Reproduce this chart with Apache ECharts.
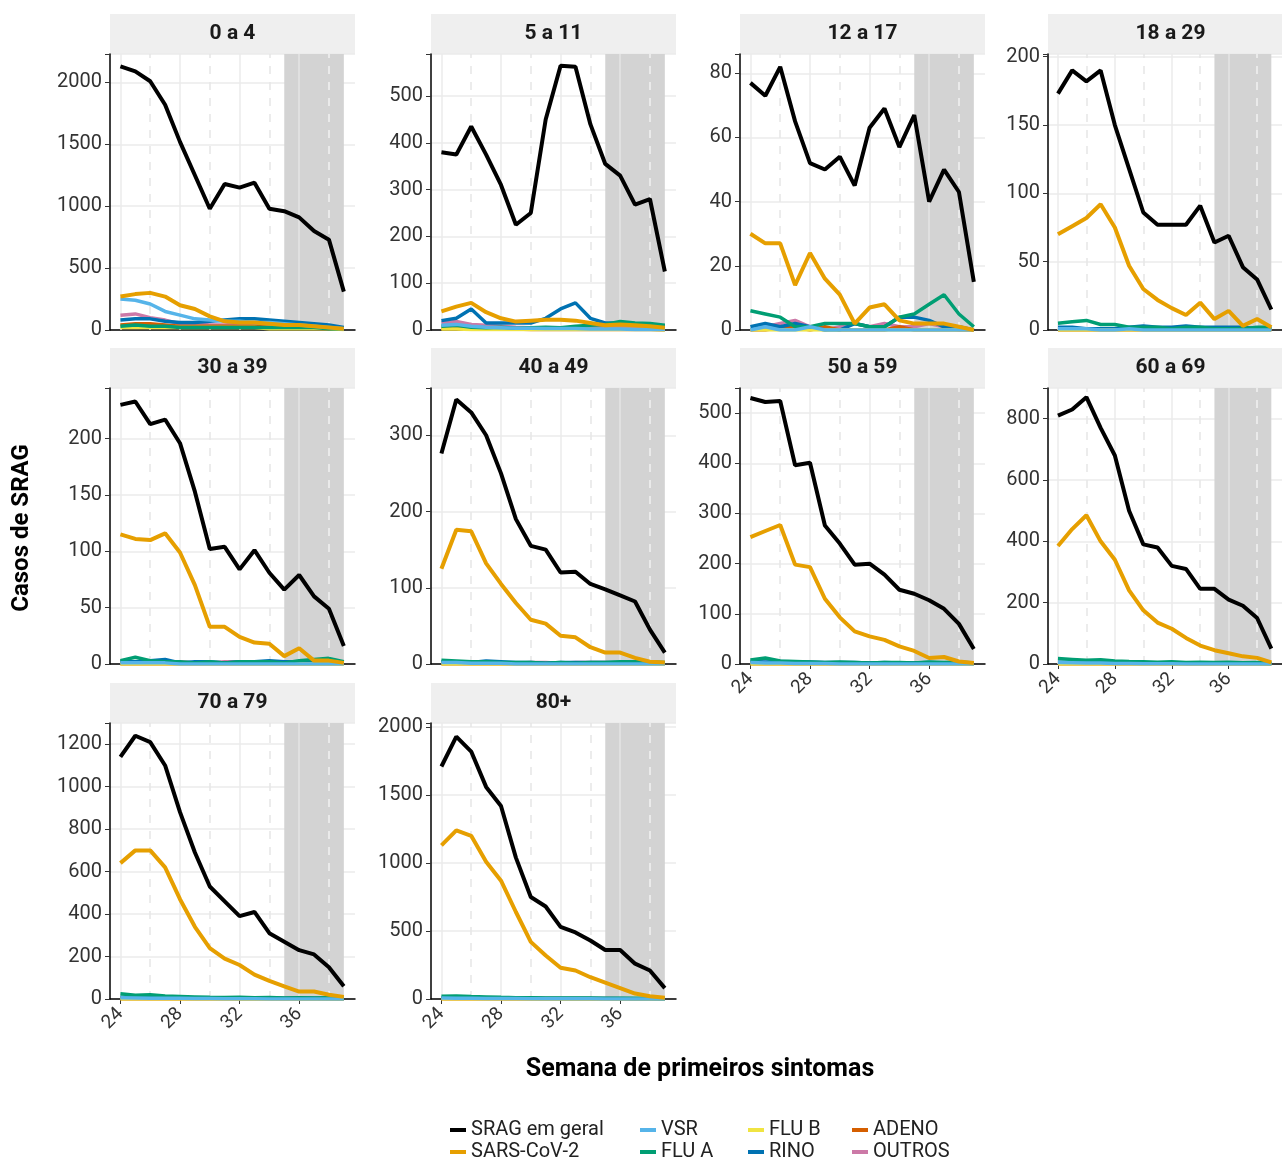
<!DOCTYPE html>
<html><head><meta charset="utf-8">
<script src="https://cdn.jsdelivr.net/npm/echarts@6/dist/echarts.min.js"></script>
<style>html,body{margin:0;background:#fff}#c{width:1282px;height:1162px}</style>
</head><body><div id="c"></div>
<script>
// semanas epidemiológicas
var weeks = [24,25,26,27,28,29,30,31,32,33,34,35,36,37,38,39];
var panels = ['0 a 4','5 a 11','12 a 17','18 a 29','30 a 39','40 a 49','50 a 59','60 a 69','70 a 79','80+'];
var seriesNames = ['SRAG em geral','SARS-CoV-2','VSR','FLU A','FLU B','RINO','ADENO','OUTROS'];
var colors = ['#000000','#E69F00','#56B4E9','#009E73','#F0E442','#0072B2','#D55E00','#CC79A7'];

var srag = [
  [2130,2090,2010,1820,1520,1250,980,1180,1150,1190,980,960,910,800,730,310],
  [380,375,435,375,310,225,250,450,565,563,440,355,330,268,280,125],
  [77,73,82,65,52,50,54,45,63,69,57,67,40,50,43,15],
  [173,190,182,190,150,118,86,77,77,77,91,64,69,46,37,15],
  [230,233,213,217,196,153,102,104,84,101,81,66,79,60,49,16],
  [276,347,330,300,250,190,155,150,120,121,105,98,90,82,45,15],
  [530,522,524,396,401,276,240,198,200,178,148,140,127,110,80,30],
  [810,830,870,770,680,500,390,380,320,310,245,245,210,190,150,50],
  [1140,1240,1210,1100,880,690,530,460,390,410,310,270,230,210,150,60],
  [1710,1930,1820,1560,1420,1040,750,680,530,490,430,360,360,260,210,80]
];
var sars = [
  [270,290,300,270,200,170,110,70,60,60,50,40,40,30,20,10],
  [40,50,58,38,25,18,20,22,22,20,15,10,12,10,8,5],
  [30,27,27,14,24,16,11,2,7,8,3,2,2,2,1,0],
  [70,76,82,92,75,47,30,22,16,11,20,8,14,3,8,2],
  [115,111,110,116,99,70,33,33,24,19,18,7,14,3,3,1],
  [125,176,174,132,105,80,58,53,37,35,22,15,15,8,3,2],
  [253,265,277,198,193,130,93,65,55,48,35,26,12,14,5,2],
  [385,440,485,400,340,240,175,135,115,85,60,45,35,25,20,5],
  [640,700,700,620,470,340,240,190,160,115,85,60,35,35,20,10],
  [1130,1240,1200,1010,870,640,420,320,230,210,160,120,80,40,20,10]
];
var vsr = [
  [250,240,210,150,120,90,80,70,70,60,60,50,40,30,20,10],
  [10,12,8,6,5,4,4,3,3,3,2,2,2,1,1,1],
  [0,1,0,0,1,0,0,0,0,0,0,0,0,0,0,0],
  [1,1,1,0,0,1,0,0,0,0,0,0,0,0,0,0],
  [1,1,1,1,0,0,0,0,0,0,0,0,0,0,0,0],
  [2,2,1,1,1,0,0,0,0,0,0,0,0,0,0,0],
  [3,2,2,1,1,1,0,0,0,0,0,0,0,0,0,0],
  [5,4,3,3,2,2,1,1,1,0,0,0,0,0,0,0],
  [6,5,4,4,3,2,2,1,1,1,0,0,0,0,0,0],
  [8,6,5,4,3,3,2,2,1,1,1,0,0,0,0,0]
];
var fluA = [
  [30,40,30,30,20,20,20,20,20,20,20,20,20,20,10,10],
  [8,10,6,5,6,4,5,6,5,8,10,12,18,15,14,10],
  [6,5,4,1,1,2,2,2,1,1,4,5,8,11,5,1],
  [5,6,7,4,4,2,2,2,1,2,2,1,1,1,2,2],
  [3,6,3,2,2,1,2,1,2,2,2,1,3,4,5,2],
  [5,4,3,3,2,2,2,1,2,1,2,2,3,3,3,2],
  [8,12,6,5,4,3,4,3,2,3,3,2,4,3,4,2],
  [18,15,12,14,10,8,7,6,7,5,6,5,6,4,5,3],
  [25,18,20,14,12,10,8,7,8,6,7,5,6,5,6,3],
  [20,22,18,15,12,10,10,8,8,7,7,6,6,5,5,3]
];
var fluB = [
  [20,20,20,20,20,20,20,20,20,20,10,10,10,10,10,5],
  [2,2,1,1,1,1,1,1,1,1,1,1,1,1,1,0],
  [0,0,0,0,0,0,0,0,0,0,0,0,0,0,0,0],
  [0,0,0,0,0,0,0,0,0,0,0,0,0,0,0,0],
  [0,0,0,0,0,0,0,0,0,0,0,0,0,0,0,0],
  [0,0,0,0,0,0,0,0,0,0,0,0,0,0,0,0],
  [0,0,0,0,0,0,0,0,0,0,0,0,0,0,0,0],
  [0,0,0,0,0,0,0,0,0,0,0,0,0,0,0,0],
  [0,0,0,0,0,0,0,0,0,0,0,0,0,0,0,0],
  [0,0,0,0,0,0,0,0,0,0,0,0,0,0,0,0]
];
var rino = [
  [80,90,90,70,60,60,70,80,90,90,80,70,60,50,40,20],
  [20,25,45,15,15,15,15,25,45,58,25,15,15,12,12,8],
  [1,2,1,2,1,0,0,2,1,1,4,4,3,1,1,0],
  [2,2,1,1,1,2,3,2,2,3,2,2,2,2,1,1],
  [2,2,3,4,1,2,2,1,2,2,3,2,2,2,1,1],
  [3,3,2,4,3,2,2,1,2,2,2,2,2,3,2,1],
  [5,4,5,4,4,3,3,3,2,3,2,2,3,2,2,1],
  [6,6,5,6,5,4,4,3,3,4,3,3,3,2,2,1],
  [8,7,7,6,5,5,4,4,4,3,3,3,3,3,2,1],
  [8,8,7,6,6,5,5,4,4,4,3,3,3,2,2,1]
];
var adeno = [
  [40,50,50,40,30,30,30,30,30,30,20,20,20,20,10,10],
  [3,3,2,2,2,2,1,1,1,1,1,1,1,1,1,0],
  [0,0,1,1,0,1,0,0,0,0,1,0,0,0,0,0],
  [0,0,0,0,0,0,0,0,0,0,0,0,0,0,0,0],
  [0,0,0,0,0,0,0,0,0,0,0,0,0,0,0,0],
  [0,0,0,0,0,0,0,0,0,0,0,0,0,0,0,0],
  [0,0,0,0,0,0,0,0,0,0,0,0,0,0,0,0],
  [0,0,0,0,0,0,0,0,0,0,0,0,0,0,0,0],
  [0,0,0,0,0,0,0,0,0,0,0,0,0,0,0,0],
  [0,0,0,0,0,0,0,0,0,0,0,0,0,0,0,0]
];
var outros = [
  [120,130,100,80,50,50,40,40,50,40,40,30,30,20,20,10],
  [15,18,12,10,8,6,5,5,4,4,5,5,6,6,5,4],
  [0,1,2,3,1,0,1,2,1,2,1,1,2,1,0,0],
  [1,1,1,1,1,1,1,1,1,1,1,1,1,1,1,1],
  [2,2,1,1,2,1,1,2,2,1,2,2,2,1,1,1],
  [2,2,2,2,1,1,2,2,1,2,2,2,1,1,1,1],
  [3,3,2,3,2,2,2,2,2,2,2,2,2,2,1,1],
  [4,4,3,3,3,3,3,3,3,2,2,2,2,2,2,1],
  [5,5,4,4,4,3,3,3,3,3,3,2,2,2,2,1],
  [6,6,5,5,4,4,4,3,3,3,3,3,2,2,2,1]
];
var yMax = [2230,590,86,202,245,362,550,900,1300,2030];
var yStep = [500,100,20,50,50,100,100,200,200,500];
var showXLabels = [false,false,false,false,false,false,true,true,true,true];

var allData = [srag,sars,vsr,fluA,fluB,rino,adeno,outros];
var colLeft = [110,431,740,1048];
var rowTop = [54,388,723];
var W = 245, H = 276;

var grids = [], xAxes = [], yAxes = [], series = [], graphics = [];
panels.forEach(function(name, p){
  var col = p % 4, row = Math.floor(p / 4);
  grids.push({left: colLeft[col], top: rowTop[row], width: W, height: H});
  xAxes.push({
    type:'value', gridIndex:p, min:23.3, max:39.75,
    axisLine:{show:true, lineStyle:{color:'#000', width:1.5}},
    axisTick:{show:showXLabels[p], customValues:[24,28,32,36], length:5, lineStyle:{color:'#333'}},
    axisLabel:{show:showXLabels[p], customValues:[24,28,32,36], rotate:45, fontSize:19, color:'#333', fontFamily:'Roboto', margin:12},
    splitLine:{show:false}
  });
  yAxes.push({
    type:'value', gridIndex:p, min:0, max:yMax[p], interval:yStep[p],
    axisLine:{show:true, lineStyle:{color:'#000', width:1.5}},
    axisTick:{show:true, length:5, lineStyle:{color:'#333'}},
    axisLabel:{fontSize:20, color:'#333', fontFamily:'Roboto', margin:8,
      formatter:function(v){ return v % yStep[p] !== 0 ? '' : v; }},
    splitLine:{show:true, lineStyle:{color:'#ebebeb', width:1.5}}
  });
  graphics.push({type:'rect', shape:{x:colLeft[col], y:rowTop[row]-40, width:W, height:40},
    style:{fill:'#efefef'}});
  graphics.push({type:'text', x:colLeft[col]+W/2, y:rowTop[row]-20,
    style:{text:name, fontSize:21, fontWeight:'bold', fontFamily:'Roboto', fill:'#1a1a1a', align:'center', verticalAlign:'middle'}});
  // faixa cinza (semanas recentes) e linhas de grade verticais
  series.push({type:'line', xAxisIndex:p, yAxisIndex:p, data:[], z:1, silent:true,
    markArea:{silent:true, itemStyle:{color:'#d3d3d3'}, data:[[{xAxis:35},{xAxis:39}]]}});
  series.push({type:'line', xAxisIndex:p, yAxisIndex:p, data:[], z:2, silent:true,
    markLine:{silent:true, symbol:'none', label:{show:false},
      data:[24,28,32,36].map(function(v){ return {xAxis:v, lineStyle:{color: v > 35 ? '#e4e4e4' : '#ebebeb', type:'solid', width:1.5}}; })
        .concat([26,30,34,38].map(function(v){ return {xAxis:v, lineStyle:{color: v > 35 ? '#f2f2f2' : '#e6e6e6', type:[8,8], width:1.5}}; }))}});
  for (var s = seriesNames.length - 1; s >= 0; s--) {
    var d = allData[s][p].map(function(v, i){ return [weeks[i], v]; });
    series.push({
      name: seriesNames[s], type:'line', xAxisIndex:p, yAxisIndex:p, data:d,
      showSymbol:false, symbol:'none', color:colors[s],
      lineStyle:{width: s < 2 ? 4 : 3.5, color:colors[s]}, z: 12 - s, silent:true
    });
  }
});

graphics.push({type:'text', x:700, y:1070, style:{text:'Semana de primeiros sintomas', fontSize:25, fontWeight:'bold', fontFamily:'Roboto', fill:'#000', align:'center', verticalAlign:'middle'}});
graphics.push({type:'text', x:22, y:528, rotation:Math.PI/2, style:{text:'Casos de SRAG', fontSize:24, fontWeight:'bold', fontFamily:'Roboto', fill:'#000', align:'center', verticalAlign:'middle'}});

var legendLeft = [450,450,640,640,748,748,852,852];
var legendTop = [1120,1142,1120,1142,1120,1142,1120,1142];
var legends = seriesNames.map(function(n, k){
  return {left:legendLeft[k], top:legendTop[k], padding:0, itemWidth:16, itemHeight:4,
    icon:'rect', selectedMode:false,
    textStyle:{fontSize:20, fontFamily:'Roboto', color:'#222'},
    data:[{name:n, itemStyle:{color:colors[k]}}]};
});

var chart = echarts.init(document.getElementById('c'));
chart.setOption({
  animation:false,
  grid:grids, xAxis:xAxes, yAxis:yAxes, series:series,
  legend:legends, graphic:graphics
});
</script>
</body></html>
